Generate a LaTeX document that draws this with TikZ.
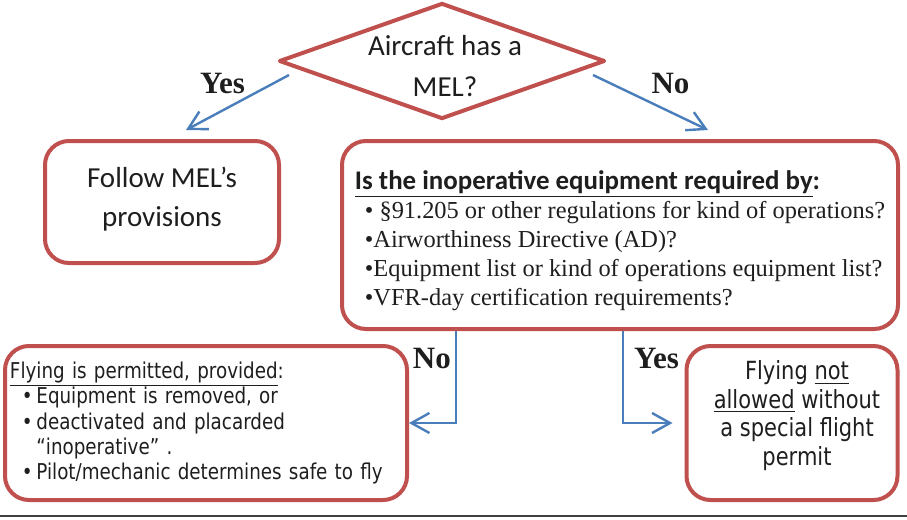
\documentclass[tikz,border=0pt]{standalone}
\usepackage{fontspec}
\setmainfont{Carlito}
\newfontfamily\timesfont{Liberation Serif}
\newfontfamily\tahomafont[FakeStretch=0.84]{DejaVu Sans}
\usetikzlibrary{shapes.geometric,arrows.meta,calc}
\definecolor{boxred}{RGB}{192,80,77}
\definecolor{arrowblue}{RGB}{74,126,187}
\definecolor{inkgray}{RGB}{30,30,30}

\begin{document}
\begin{tikzpicture}[
  x = 0.5pt, y = -0.5pt,
  box/.style = {draw = boxred, line width = 2pt, rounded corners = 12pt,
                text = inkgray, inner sep = 0pt},
  arr/.style = {draw = arrowblue, line width = 1.2pt,
                -{Straight Barb[length = 9pt, width = 10pt]}},
  lbl/.style = {font = \timesfont\bfseries\fontsize{15.5}{15.5}\selectfont,
                text = inkgray, inner sep = 2pt}
]
\useasboundingbox (0,0) rectangle (907,520);

\node[diamond, draw = boxred, line width = 2pt, line join = round,
      minimum width = 163pt, minimum height = 58pt, inner sep = 0pt]
  (mel) at (442,61) {};
\node[text = inkgray, align = center, font = \fontsize{14.5}{20.5}\selectfont]
  (meltext) at (445,66) {Aircraft has a\\MEL?};

\node[box, minimum width = 117pt, minimum height = 61pt, align = center,
      font = \fontsize{14.5}{19.5}\selectfont]
  (follow) at (162,202) {Follow MEL’s\\provisions\rule[-5pt]{0pt}{5pt}};

\node[box, minimum width = 278pt, minimum height = 94pt, align = left,
      font = \timesfont\fontsize{12.2}{14.5}\selectfont]
  (req) at (620,235) {%
  {\rmfamily\bfseries\fontsize{13.45}{17}\selectfont\rule{0pt}{15pt}%
   \underline{Is the inoperative equipment required by}:}\\
  \hspace*{5pt}\textbullet\ \S91.205 or other regulations for kind of operations?\\
  \hspace*{5pt}\textbullet Airworthiness Directive (AD)?\\
  \hspace*{5pt}\textbullet Equipment list or kind of operations equipment list?\\
  \hspace*{5pt}\textbullet VFR-day certification requirements?};

\node[box, minimum width = 201pt, minimum height = 77pt, text width = 196pt,
      inner xsep = 2.5pt, align = left,
      font = \tahomafont\fontsize{10.9}{12.65}\selectfont]
  (permit) at (206,423) {%
  \underline{Flying is permitted, provided}:\\
  \hspace*{6pt}\textbullet\,Equipment is removed, or\\
  \hspace*{6pt}\textbullet\,deactivated and placarded\\
  \hspace*{6pt}\phantom{\textbullet\,}“inoperative” .\\
  \hspace*{6pt}\textbullet\,Pilot/mechanic determines safe to fly};

\node[box, minimum width = 105.5pt, minimum height = 77pt, align = center,
      font = \tahomafont\fontsize{12.5}{14.25}\selectfont]
  (noperm) at (792,423) {%
  \hspace*{5pt}Flying \underline{not}\\\hspace*{5pt}\underline{allowed} without\\
  \hspace*{5pt}a special flight\\\hspace*{5pt}permit\rule[-10pt]{0pt}{10pt}};

% answers to the first question
\coordinate (yes-end) at (186,130);
\coordinate (no-end) at (708,130);
\draw[arr] ([shift = {(12,14)}]mel.west) -- (yes-end)
  node[lbl, midway, xshift = -7.5pt, yshift = 9.75pt] {Yes};
\draw[arr] ([shift = {(-14,14)}]mel.east) -- (no-end)
  node[lbl, midway, xshift = 10pt, yshift = 9.75pt] {No};

% answers to the second question
\draw[arr] ($(req.south)+(-164,0)$) |- (permit.east)
  node[lbl, pos = 0.15, left] {No};
\draw[arr] ($(req.south)+(3,0)$) |- ([xshift = -6pt]noperm.west)
  node[lbl, pos = 0.15, right, xshift = 3pt] {Yes};

\draw[line width = 0.8pt, black!75] (0,516) -- (907,516);
\end{tikzpicture}
\end{document}
